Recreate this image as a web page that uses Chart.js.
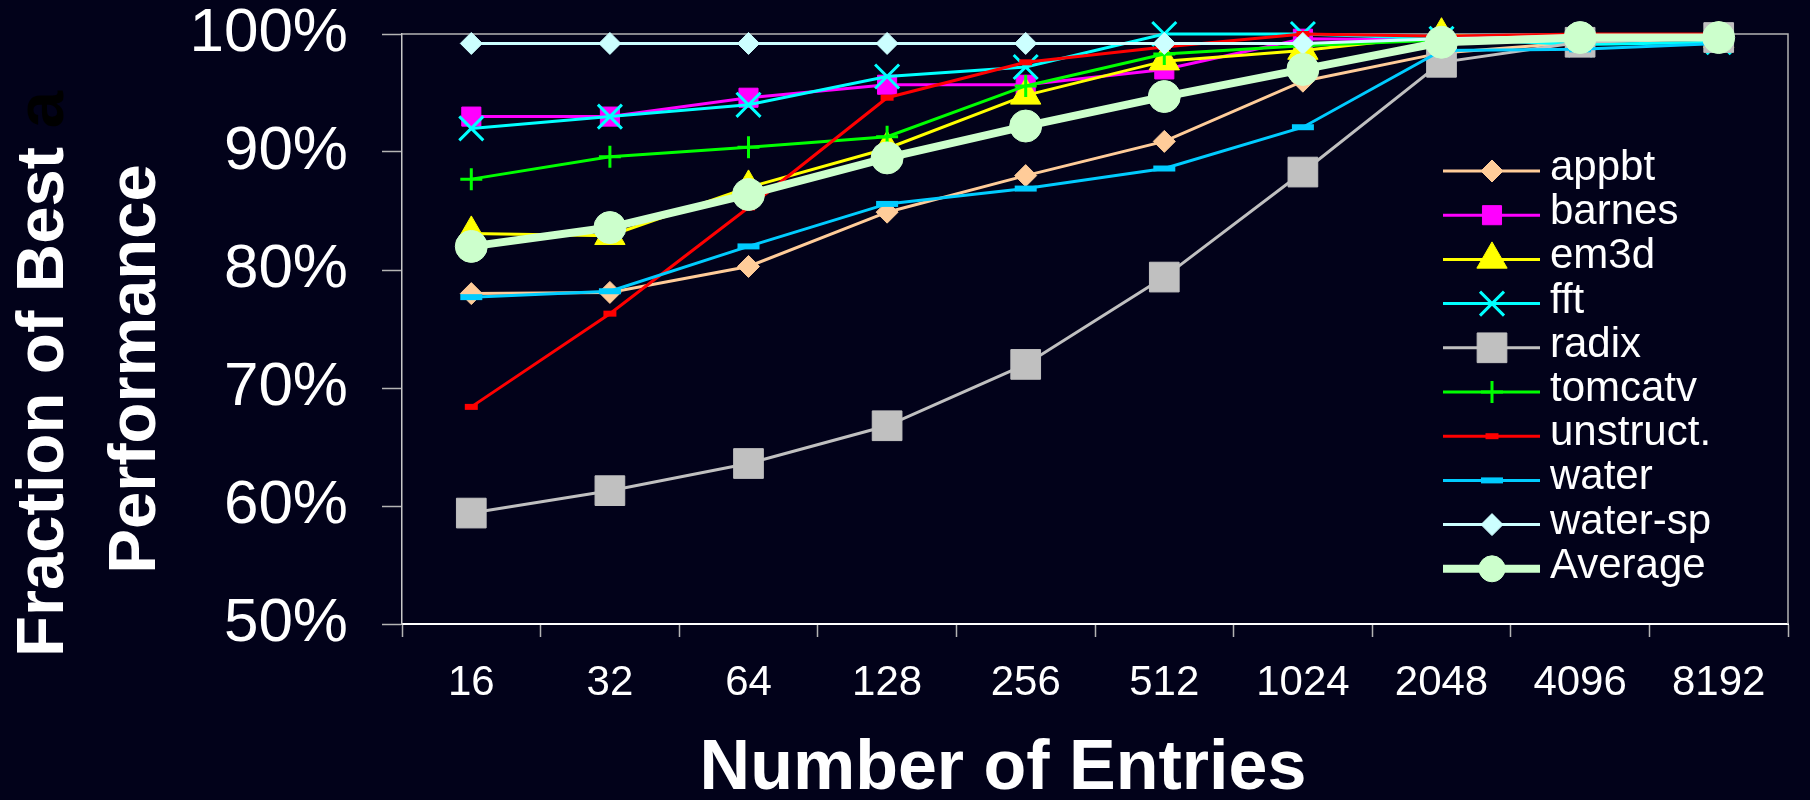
<!DOCTYPE html>
<html>
<head>
<meta charset="utf-8">
<script src="https://cdn.jsdelivr.net/npm/chart.js@4.4.1/dist/chart.umd.min.js"></script>
<style>
  html, body { margin: 0; padding: 0; background: #02021a; }
  #wrap { width: 1810px; height: 800px; }
</style>
</head>
<body>
<div id="wrap"><canvas id="tlbChart" width="1810" height="800"></canvas></div>
<script>
// Datos
const entries = ['16', '32', '64', '128', '256', '512', '1024', '2048', '4096', '8192'];
const yMin = 50, yMax = 100, yStep = 10;

const appbt    = [78.0, 78.1, 80.3, 84.9, 88.0, 90.9, 96.0, 98.4, 99.3, 99.6];
const barnes   = [93.0, 93.0, 94.6, 95.7, 95.7, 97.0, 99.6, 99.5, 99.6, 99.7];
const em3d     = [83.1, 82.9, 87.0, 90.3, 94.8, 97.7, 98.6, 99.9, 99.5, 99.6];
const fft      = [92.0, 93.0, 94.0, 96.4, 97.2, 100.0, 100.0, 99.6, 99.1, 99.3];
const radix    = [59.4, 61.3, 63.6, 66.8, 72.0, 79.4, 88.3, 97.6, 99.3, 99.7];
const tomcatv  = [87.7, 89.6, 90.4, 91.3, 95.6, 98.3, 99.0, 99.5, 99.7, 99.8];
const unstruct = [68.4, 76.3, 85.3, 94.6, 97.6, 98.9, 100.0, 99.8, 100.0, 100.0];
const water    = [77.7, 78.2, 82.0, 85.6, 86.9, 88.6, 92.1, 98.6, 98.7, 99.2];
const waterSp  = [99.2, 99.2, 99.2, 99.2, 99.2, 99.2, 99.2, 99.6, 99.8, 99.8];
const average  = [82.0, 83.6, 86.4, 89.5, 92.2, 94.7, 97.0, 99.3, 99.7, 99.7];

const xTitle = 'Number of Entries';
const yTitleLines = ['Fraction of Best', 'Performance'];
const yTitleHidden = ' a';

const FONT = 'Arial, "Liberation Sans", Helvetica, sans-serif';
const BG = '#02021a';

// Construir una serie con su estilo
function serie(label, data, color, style, radius, extra) {
    const ds = {
        label: label,
        data: data,
        borderColor: color,
        backgroundColor: color,
        borderWidth: 3,
        tension: 0,
        clip: false,
        pointStyle: style,
        pointRadius: radius,
        pointHoverRadius: radius,
        pointBackgroundColor: color,
        pointBorderColor: color,
        pointBorderWidth: 1
    };
    return Object.assign(ds, extra || {});
}

const datasets = [
    serie('appbt', appbt, '#ffcc99', 'rectRot', 11),
    serie('barnes', barnes, '#ff00ff', 'rect', 13.5),
    serie('em3d', em3d, '#ffff00', 'triangle', 17.5),
    serie('fft', fft, '#00ffff', 'crossRot', 17, { pointBorderWidth: 3 }),
    serie('radix', radix, '#c0c0c0', 'rect', 21),
    serie('tomcatv', tomcatv, '#00ff00', 'cross', 11, { pointBorderWidth: 3 }),
    serie('unstruct.', unstruct, '#ff0000', 'line', 6.5, { pointBorderWidth: 6 }),
    serie('water', water, '#00ccff', 'line', 11, { pointBorderWidth: 6 }),
    serie('water-sp', waterSp, '#ccffff', 'rectRot', 11),
    serie('Average', average, '#ccffcc', 'circle', 16, { borderWidth: 8, legendRadius: 13 })
];
// La última serie se dibuja encima
datasets.forEach((ds, i) => { ds.order = datasets.length - i; });

// Fondo oscuro
const backgroundPlugin = {
    id: 'fondo',
    beforeDraw(chart) {
        const ctx = chart.ctx;
        ctx.save();
        ctx.fillStyle = BG;
        ctx.fillRect(0, 0, chart.width, chart.height);
        ctx.restore();
    }
};

// Borde superior y derecho del área del gráfico
const framePlugin = {
    id: 'marco',
    beforeDatasetsDraw(chart) {
        const a = chart.chartArea;
        const ctx = chart.ctx;
        ctx.save();
        ctx.strokeStyle = '#b4b4b4';
        ctx.lineWidth = 1.5;
        ctx.beginPath();
        ctx.moveTo(a.left, a.top);
        ctx.lineTo(a.right, a.top);
        ctx.lineTo(a.right, a.bottom);
        ctx.stroke();
        ctx.restore();
    }
};

// Leyenda dentro del gráfico, con línea y marcador
const legendPlugin = {
    id: 'leyenda',
    afterDatasetsDraw(chart) {
        const ctx = chart.ctx;
        const top = 171, gap = 44.2;
        const x1 = 1443, x2 = 1540, xm = 1492, xt = 1550;
        chart.data.datasets.forEach((ds, i) => {
            const y = top + i * gap;
            ctx.save();
            ctx.strokeStyle = ds.borderColor;
            ctx.lineWidth = ds.borderWidth;
            ctx.beginPath();
            ctx.moveTo(x1, y);
            ctx.lineTo(x2, y);
            ctx.stroke();
            ctx.fillStyle = ds.pointBackgroundColor;
            ctx.strokeStyle = ds.pointBorderColor;
            ctx.lineWidth = ds.pointBorderWidth;
            Chart.helpers.drawPoint(ctx, {
                pointStyle: ds.pointStyle,
                radius: ds.legendRadius || ds.pointRadius,
                borderWidth: ds.pointBorderWidth,
                rotation: 0
            }, xm, y);
            ctx.fillStyle = '#ffffff';
            ctx.font = '42px ' + FONT;
            ctx.textAlign = 'left';
            ctx.textBaseline = 'alphabetic';
            ctx.fillText(ds.label, xt, y + 9);
            ctx.restore();
        });
    }
};

// Títulos de los ejes
const titlesPlugin = {
    id: 'titulos',
    afterDraw(chart) {
        const ctx = chart.ctx;
        ctx.save();
        ctx.fillStyle = '#ffffff';
        ctx.font = 'bold 70px ' + FONT;
        ctx.textAlign = 'center';
        ctx.textBaseline = 'alphabetic';
        ctx.fillText(xTitle, 1003, 789);

        ctx.font = 'bold 67px ' + FONT;
        ctx.textAlign = 'left';
        // primera línea (con la "a" oculta en negro)
        ctx.save();
        ctx.translate(63, 374);
        ctx.rotate(-Math.PI / 2);
        const w1 = ctx.measureText(yTitleLines[0]).width;
        const w2 = ctx.measureText(yTitleHidden).width;
        const x0 = -(w1 + w2) / 2;
        ctx.fillText(yTitleLines[0], x0, 0);
        ctx.fillStyle = '#000000';
        ctx.fillText(yTitleHidden, x0 + w1, 0);
        ctx.restore();
        // segunda línea
        ctx.save();
        ctx.translate(155, 369);
        ctx.rotate(-Math.PI / 2);
        ctx.textAlign = 'center';
        ctx.fillText(yTitleLines[1], 0, 0);
        ctx.restore();
        ctx.restore();
    }
};

document.addEventListener('DOMContentLoaded', function() {
    const ctx = document.getElementById('tlbChart');
    new Chart(ctx, {
        type: 'line',
        data: {
            labels: entries,
            datasets: datasets
        },
        options: {
            responsive: false,
            animation: false,
            events: [],
            layout: {
                padding: { top: 34, right: 5, left: 0, bottom: 0 }
            },
            scales: {
                x: {
                    offset: true,
                    grid: {
                        offset: true,
                        drawOnChartArea: false,
                        drawTicks: true,
                        tickLength: 13,
                        tickColor: '#b4b4b4',
                        tickWidth: 1.5
                    },
                    border: { display: true, color: '#ffffff', width: 2 },
                    ticks: {
                        color: '#ffffff',
                        padding: 21,
                        maxRotation: 0,
                        autoSkip: false,
                        font: { family: FONT, size: 42, lineHeight: 1.2 }
                    },
                    afterFit(scale) {
                        scale.height = 176;
                        scale.paddingLeft = 0;
                        scale.paddingRight = 0;
                    }
                },
                y: {
                    min: yMin,
                    max: yMax,
                    grid: {
                        drawOnChartArea: false,
                        drawTicks: true,
                        tickLength: 20,
                        tickColor: '#b4b4b4',
                        tickWidth: 1.5
                    },
                    border: { display: true, color: '#c8c8c8', width: 1.5 },
                    ticks: {
                        stepSize: yStep,
                        color: '#ffffff',
                        padding: 34,
                        font: { family: FONT, size: 62, lineHeight: 1 },
                        callback: function(v) { return v + '%'; }
                    },
                    afterFit(scale) {
                        scale.width = 402;
                        scale.paddingTop = 0;
                        scale.paddingBottom = 0;
                    }
                }
            },
            plugins: {
                legend: { display: false },
                tooltip: { enabled: false }
            }
        },
        plugins: [backgroundPlugin, framePlugin, legendPlugin, titlesPlugin]
    });
});
</script>
</body>
</html>
